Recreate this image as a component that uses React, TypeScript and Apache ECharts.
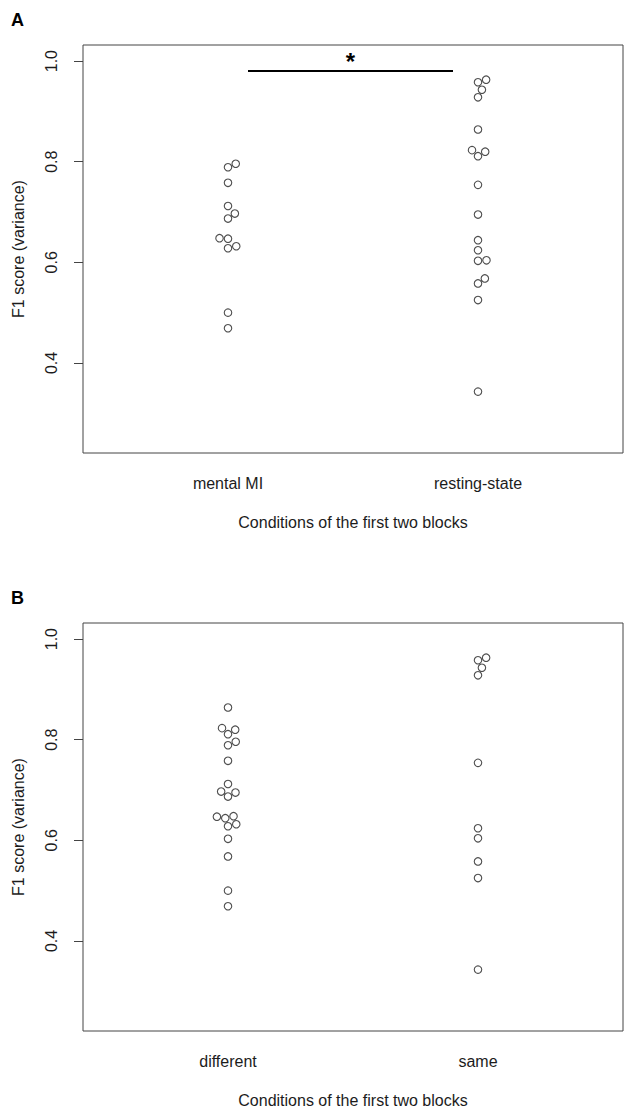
import React, { useEffect, useRef } from "react";
import * as echarts from "echarts";

// ---------- data ----------
const categoriesA = ["mental MI", "resting-state"];
const categoriesB = ["different", "same"];
const mentalMI = [0.796, 0.789, 0.758, 0.712, 0.697, 0.687, 0.648, 0.647, 0.632, 0.628, 0.5, 0.469];
const restingState = [
  0.963, 0.958, 0.943, 0.928, 0.864, 0.823, 0.82, 0.811, 0.754, 0.695, 0.644, 0.624, 0.604, 0.603, 0.568,
  0.558, 0.525, 0.343,
];
const different = [
  0.864, 0.823, 0.82, 0.811, 0.796, 0.789, 0.758, 0.712, 0.697, 0.695, 0.687, 0.648, 0.647, 0.644, 0.632,
  0.628, 0.603, 0.568, 0.5, 0.469,
];
const same = [0.963, 0.958, 0.943, 0.928, 0.754, 0.624, 0.604, 0.558, 0.525, 0.343];
const yTicks = [0.4, 0.6, 0.8, 1.0];
const sigBarFrom = [1.08, 0.98];
const sigBarTo = [1.9, 0.98];
const sigMark = "*";
const yTitle = "F1 score (variance)";
const xTitle = "Conditions of the first two blocks";

// ---------- layout ----------
const W = 630;
const H = 1113;
const GRID_W = 540;
const GRID_H = 408;
const gridA = { left: 83, top: 45, width: GRID_W, height: GRID_H };
const gridB = { left: 83, top: 623, width: GRID_W, height: GRID_H };
const X_MIN = 0.42;
const X_MAX = 2.58;
const Y_MIN = 0.221;
const Y_MAX = 1.032;
const FONT = "'Liberation Sans', Arial, Helvetica, sans-serif";
const TEXT = "#1c1c1c";
const LINE = "#444";
const PT = 7.5; // symbol diameter (px)
const SWARM_D = 8.5; // non-overlap distance (px)

// beeswarm layout (ascending priority, closest-to-centre placement)
function swarm(values: number[]): number[] {
  const pxY = GRID_H / (Y_MAX - Y_MIN);
  const pxX = GRID_W / (X_MAX - X_MIN);
  const order = values.map((v, i) => i).sort((a, b) => values[a] - values[b]);
  const placed: { x: number; y: number }[] = [];
  const out = new Array(values.length).fill(0);
  for (const idx of order) {
    const y = values[idx] * pxY;
    const cands = [0];
    for (const p of placed) {
      const dy = Math.abs(p.y - y);
      if (dy < SWARM_D) {
        const dx = Math.sqrt(SWARM_D * SWARM_D - dy * dy);
        cands.push(p.x + dx, p.x - dx);
      }
    }
    const ok = cands.filter((x) =>
      placed.every((p) => Math.hypot(p.x - x, p.y - y) >= SWARM_D - 1e-6)
    );
    ok.sort((a, b) => Math.abs(a) - Math.abs(b) || b - a);
    const x = ok[0];
    placed.push({ x, y });
    out[idx] = x / pxX;
  }
  return out;
}

function pts(values: number[], pos: number) {
  const off = swarm(values);
  return values.map((v, i) => [pos + off[i], v]);
}

function xAxisDef(gridIndex: number, cats: string[]) {
  return {
    type: "value",
    gridIndex,
    min: X_MIN,
    max: X_MAX,
    axisLine: { show: false },
    axisTick: { show: false },
    splitLine: { show: false },
    axisLabel: {
      customValues: [1, 2],
      formatter: (v: number) => cats[Math.round(v) - 1] ?? "",
      color: TEXT,
      fontSize: 16,
      fontFamily: FONT,
      margin: 22,
    },
    name: xTitle,
    nameLocation: "middle",
    nameGap: 61,
    nameTextStyle: { color: TEXT, fontSize: 16, fontFamily: FONT },
  };
}

function yAxisDef(gridIndex: number) {
  return {
    type: "value",
    gridIndex,
    min: Y_MIN,
    max: Y_MAX,
    axisLine: { show: false },
    splitLine: { show: false },
    axisTick: {
      show: true,
      customValues: yTicks,
      inside: false,
      length: 9,
      lineStyle: { color: LINE, width: 1 },
    },
    axisLabel: {
      customValues: yTicks,
      formatter: (v: number) => v.toFixed(1),
      rotate: 90,
      color: TEXT,
      fontSize: 16,
      fontFamily: FONT,
      margin: 24,
    },
    name: yTitle,
    nameLocation: "middle",
    nameGap: 57,
    nameTextStyle: { color: TEXT, fontSize: 16, fontFamily: FONT },
  };
}

const pointStyle = {
  type: "scatter",
  symbol: "circle",
  symbolSize: PT,
  itemStyle: { color: "rgba(0,0,0,0)", borderColor: "#222", borderWidth: 1.1 },
  emphasis: { disabled: true },
  silent: true,
};

export default function App() {
  const ref = useRef<HTMLDivElement>(null);
  useEffect(() => {
    if (!ref.current) return;
    const chart = echarts.init(ref.current, undefined, { renderer: "svg" });
    const gridBase = { show: true, borderColor: LINE, borderWidth: 1, backgroundColor: "transparent" };
    chart.setOption({
      animation: false,
      backgroundColor: "#fff",
      grid: [
        { ...gridBase, ...gridA },
        { ...gridBase, ...gridB },
      ],
      xAxis: [xAxisDef(0, categoriesA), xAxisDef(1, categoriesB)],
      yAxis: [yAxisDef(0), yAxisDef(1)],
      graphic: [
        { type: "text", left: 11, top: 11, style: { text: "A", fontSize: 18, fontWeight: "bold", fontFamily: FONT, fill: "#000" } },
        { type: "text", left: 11, top: 589, style: { text: "B", fontSize: 18, fontWeight: "bold", fontFamily: FONT, fill: "#000" } },
      ],
      series: [
        {
          ...pointStyle,
          name: categoriesA[0],
          xAxisIndex: 0,
          yAxisIndex: 0,
          data: pts(mentalMI, 1),
          markLine: {
            silent: true,
            symbol: "none",
            animation: false,
            lineStyle: { color: "#000", width: 2, type: "solid" },
            label: {
              show: true,
              position: "middle",
              formatter: sigMark,
              fontSize: 24,
              fontWeight: "bold",
              fontFamily: FONT,
              color: "#000",
              distance: -2,
            },
            emphasis: { disabled: true },
            data: [[{ coord: sigBarFrom }, { coord: sigBarTo }]],
          },
        },
        { ...pointStyle, name: categoriesA[1], xAxisIndex: 0, yAxisIndex: 0, data: pts(restingState, 2) },
        { ...pointStyle, name: categoriesB[0], xAxisIndex: 1, yAxisIndex: 1, data: pts(different, 1) },
        { ...pointStyle, name: categoriesB[1], xAxisIndex: 1, yAxisIndex: 1, data: pts(same, 2) },
      ],
    });
    return () => chart.dispose();
  }, []);
  return (
    <div
      ref={ref}
      style={{ position: "absolute", left: 0, top: 0, width: W, height: H, background: "#fff" }}
    />
  );
}
